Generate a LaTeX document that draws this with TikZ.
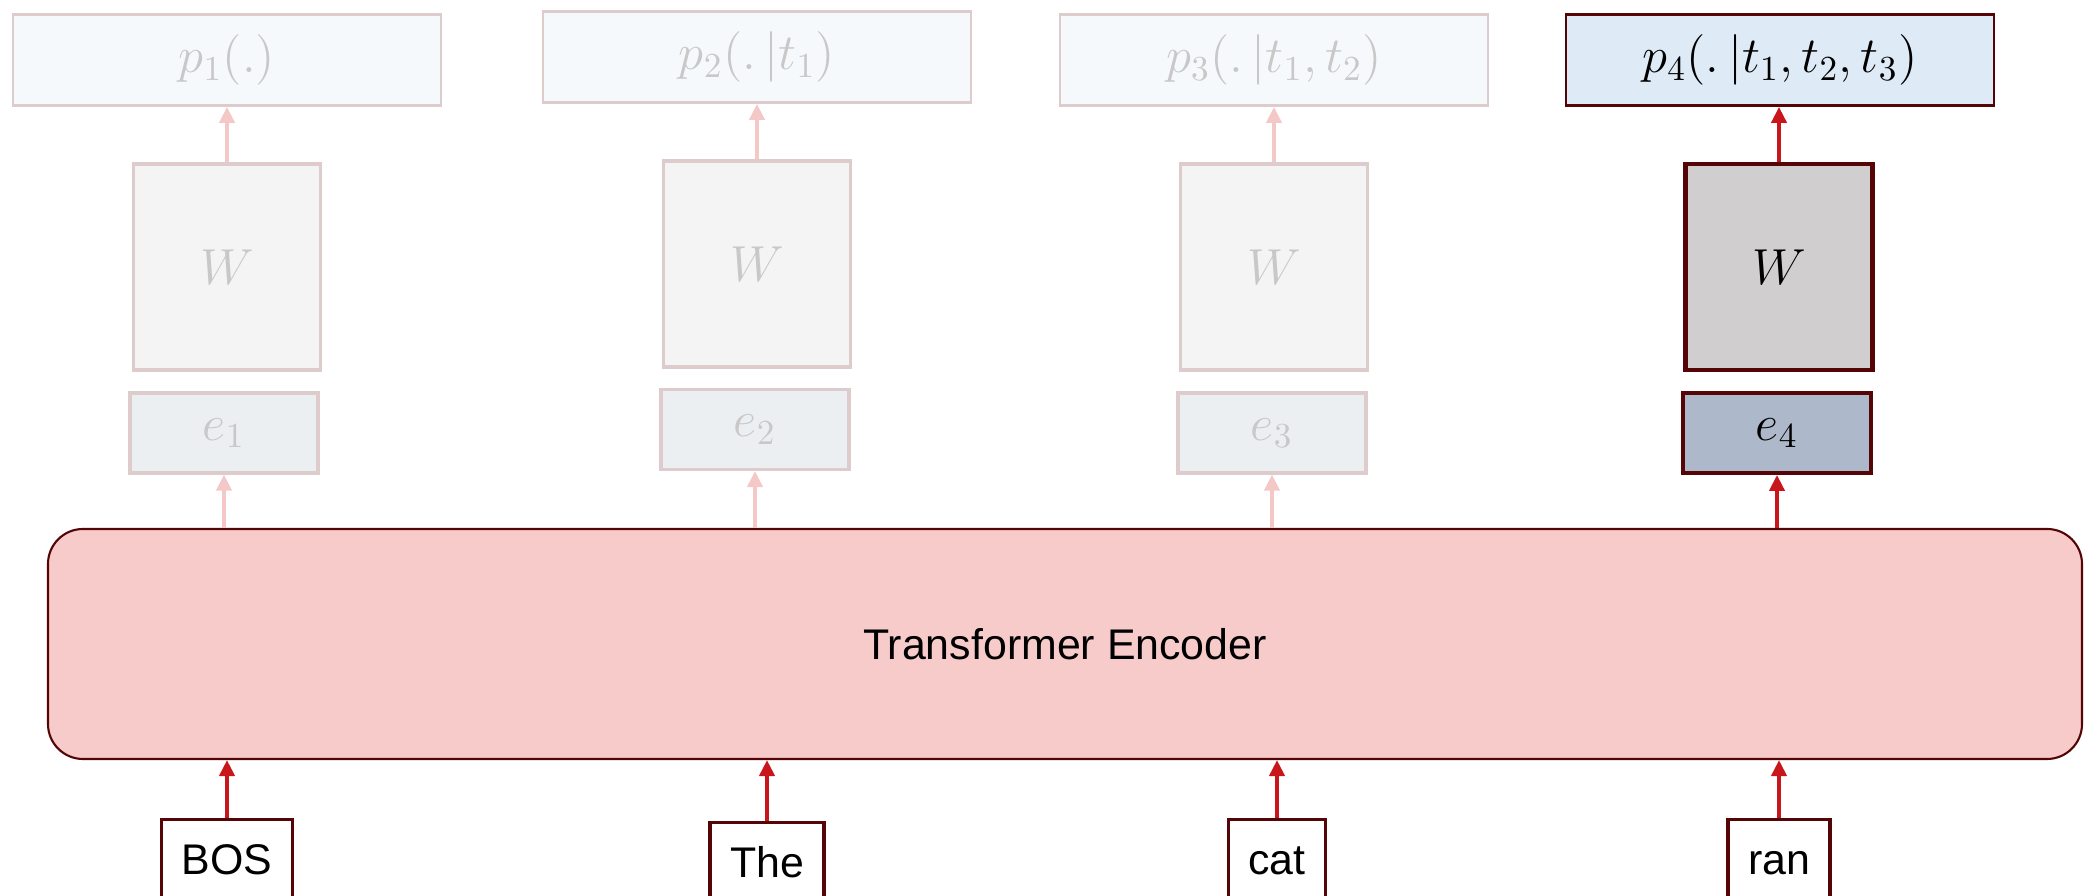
\documentclass[tikz,border=0pt]{standalone}
\usepackage{fontspec}
\newfontfamily\labelfont{Liberation Sans}
\usepackage{tikz}
\usetikzlibrary{arrows.meta}

\definecolor{fadeline}{RGB}{222,204,204}
\definecolor{fadearrow}{RGB}{245,200,200}
\definecolor{fadetext}{RGB}{200,200,200}
\definecolor{pfade}{RGB}{246,249,252}
\definecolor{wfade}{RGB}{244,244,244}
\definecolor{efade}{RGB}{236,239,242}
\definecolor{pfill}{RGB}{222,234,246}
\definecolor{wfill}{RGB}{208,206,206}
\definecolor{efill}{RGB}{173,185,202}
\definecolor{darkline}{RGB}{85,5,5}
\definecolor{encfill}{RGB}{248,203,203}
\definecolor{arrred}{RGB}{200,22,28}

\tikzset{
	mathtxt/.style={font=\fontsize{14.5}{17}\selectfont},
	probbox/.style={draw, mathtxt, minimum width=4.28cm, minimum height=0.91cm, line width=0.8pt},
	wbox/.style={draw, mathtxt, minimum width=1.87cm, minimum height=2.06cm, line width=0.9pt},
	ebox/.style={draw, mathtxt, minimum width=1.88cm, minimum height=0.80cm, line width=0.9pt},
	faded/.style={draw=fadeline, text=fadetext},
	active/.style={draw=darkline, text=black},
	tokbox/.style={draw=darkline, fill=white, line width=1pt, anchor=north,
		font=\labelfont\fontsize{12.2}{14}\selectfont,
		text height=0.31cm, text depth=0.5cm, inner ysep=0.24cm, inner xsep=0.2cm},
	uparrow/.style={-{Triangle[length=0.16cm, width=0.15cm]}, line width=1.1pt, draw=arrred},
	fadearr/.style={uparrow, draw=fadearrow}
}

\begin{document}
\begin{tikzpicture}
			%%%%% START %%%%%
			\useasboundingbox (0, 0) rectangle (20.87, 8.96);
			\clip (0, 0) rectangle (20.87, 8.96);
			
			% output distributions
			\node[probbox, faded, fill=pfade] (p1) at (2.27, 8.36) {$p_1(.)$};
			\node[probbox, faded, fill=pfade] (p2) at (7.57, 8.39) {$p_2(.\,|t_1)$};
			\node[probbox, faded, fill=pfade] (p3) at (12.74, 8.36) {$p_3(.\,|t_1,t_2)$};
			\node[probbox, active, fill=pfill] (p4) at (17.80, 8.36) {$p_4(.\,|t_1,t_2,t_3)$};
			
			% projection
			\node[wbox, faded, fill=wfade] (W1) at (2.27, 6.29) {$W$};
			\node[wbox, faded, fill=wfade] (W2) at (7.57, 6.32) {$W$};
			\node[wbox, faded, fill=wfade] (W3) at (12.74, 6.29) {$W$};
			\node[wbox, active, fill=wfill, line width=1.2pt] (W4) at (17.79, 6.29) {$W$};
			
			% embeddings
			\node[ebox, faded, fill=efade] (e1) at (2.24, 4.63) {$e_1$};
			\node[ebox, faded, fill=efade] (e2) at (7.55, 4.665) {$e_2$};
			\node[ebox, faded, fill=efade] (e3) at (12.72, 4.63) {$e_3$};
			\node[ebox, active, fill=efill, line width=1.1pt] (e4) at (17.77, 4.63) {$e_4$};
			
			% encoder
			\node[draw=darkline, fill=encfill, line width=0.6pt, rounded corners=0.35cm,
				minimum width=20.34cm, minimum height=2.30cm,
				font=\labelfont\fontsize{12.2}{14}\selectfont] (enc) at (10.65, 2.52) {Transformer Encoder};
			
			% input tokens
			\node[tokbox] (t1) at (2.27, 0.78) {BOS};
			\node[tokbox] (t2) at (7.67, 0.75) {The};
			\node[tokbox] (t3) at (12.77, 0.78) {cat};
			\node[tokbox] (t4) at (17.79, 0.78) {ran};
			
			\foreach \i in {1,...,4}
				\draw[uparrow] (t\i.north) -- (t\i.north |- enc.south);
			
			\foreach \i in {1,2,3}{
				\draw[fadearr] (e\i.south |- enc.north) -- (e\i.south);
				\draw[fadearr] (W\i.north) -- (W\i.north |- p\i.south);
			}
			\draw[uparrow] (e4.south |- enc.north) -- (e4.south);
			\draw[uparrow] (W4.north) -- (W4.north |- p4.south);
			
			%%%%% END %%%%%
\end{tikzpicture}
\end{document}
